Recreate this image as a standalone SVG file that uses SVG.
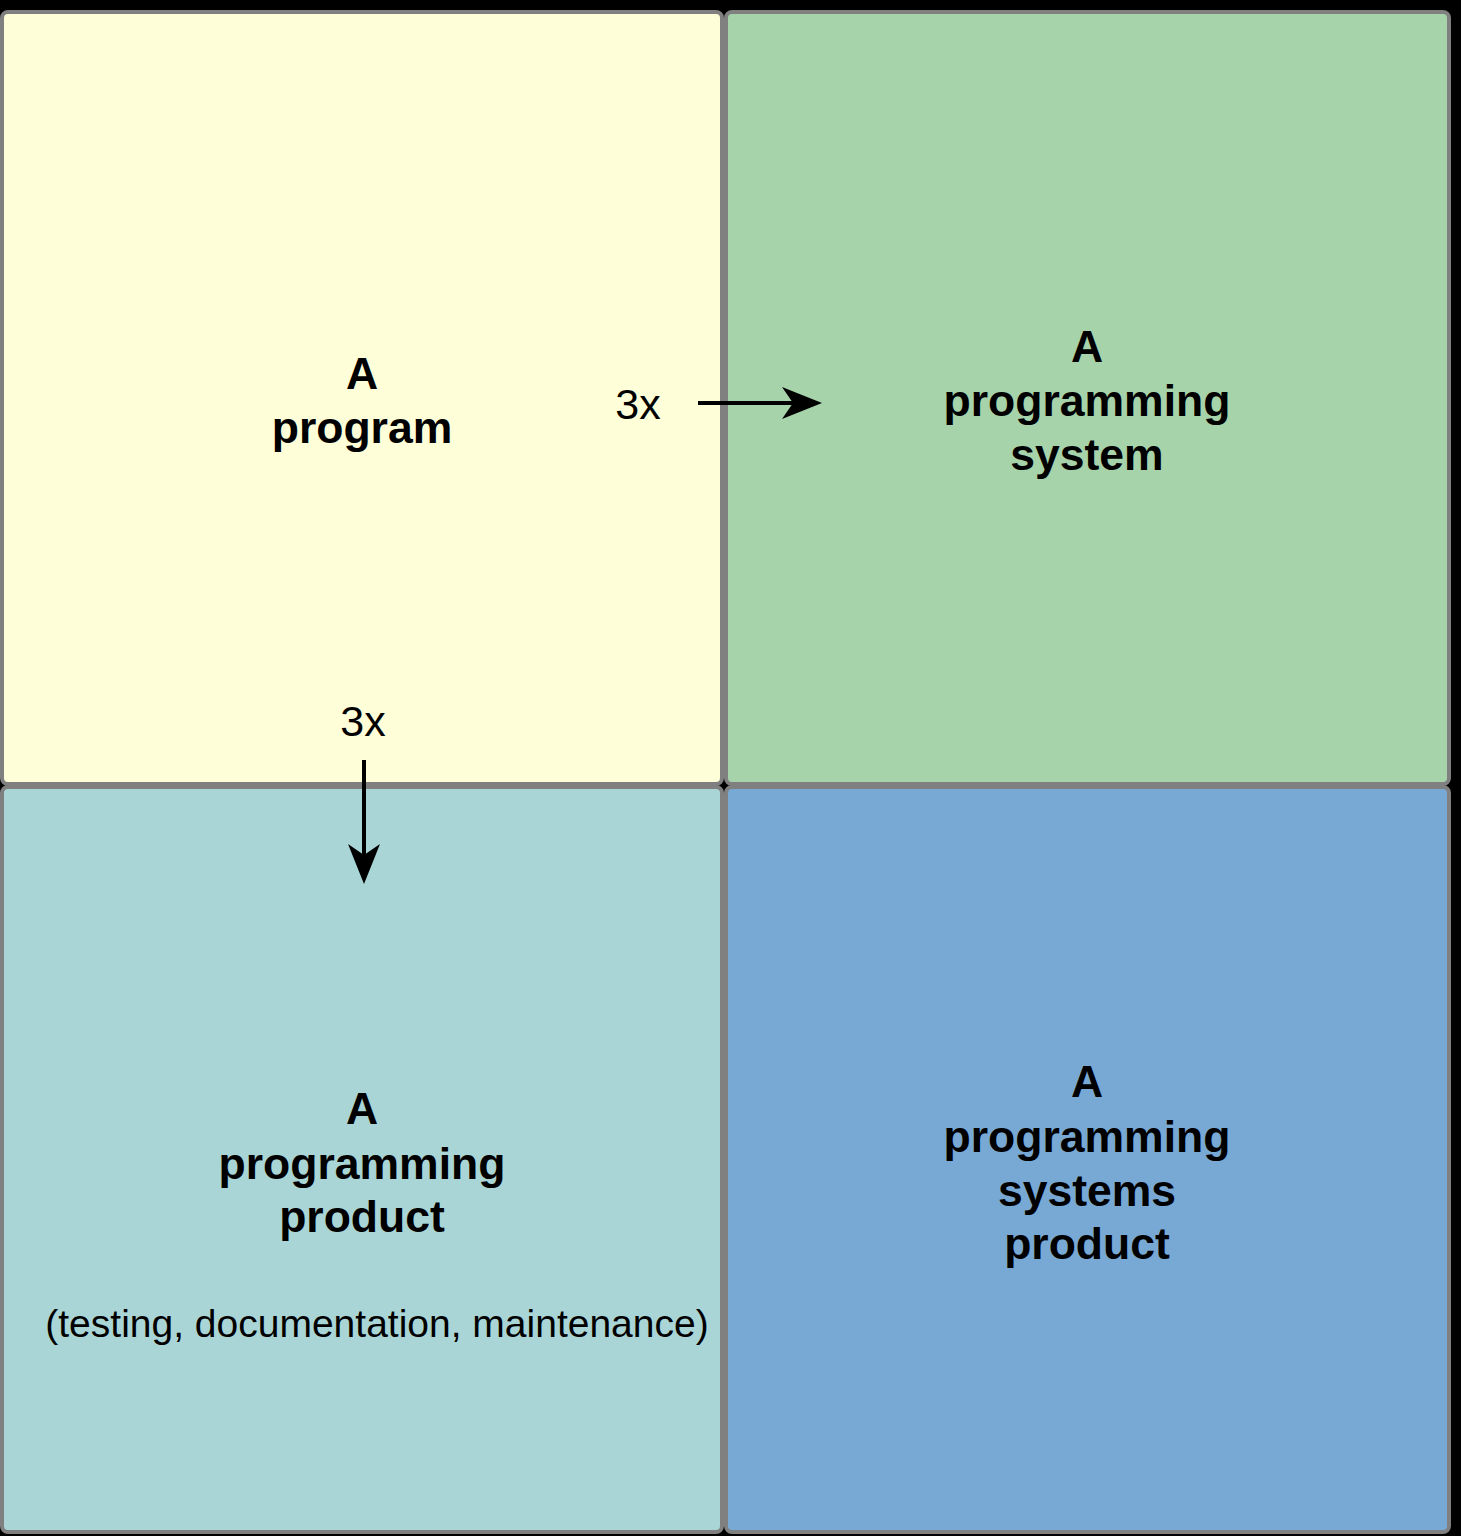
<svg xmlns="http://www.w3.org/2000/svg" width="1461" height="1536" viewBox="0 0 1461 1536">
<defs>
<style>
.box{stroke:#808080;stroke-width:4}
.t{font-family:"Liberation Sans",Arial,sans-serif;font-weight:bold;font-size:44.5px;fill:#000;text-anchor:middle}
.r{font-family:"Liberation Sans",Arial,sans-serif;font-size:39px;fill:#000;text-anchor:middle}
.x{font-family:"Liberation Sans",Arial,sans-serif;font-size:43px;fill:#000;text-anchor:middle}
.c{stroke:#000;stroke-width:4;fill:none}
</style>
<marker id="ah" markerUnits="userSpaceOnUse" viewBox="0 0 42 34" refX="30" refY="17" markerWidth="42" markerHeight="34" orient="auto">
<path d="M0,1 L40,17 L0,33 L11,17 Z" fill="#000"/>
</marker>
</defs>
<rect x="0" y="0" width="1461" height="1536" fill="#000"/>
<g id="program">
<rect class="box" x="2" y="12" width="720" height="772" rx="6" fill="#FEFED8"/>
<text class="t" x="362" y="389">A</text>
<text class="t" x="362" y="443">program</text>
</g>
<g id="system">
<rect class="box" x="726" y="12" width="723" height="772" rx="6" fill="#A7D3AA"/>
<text class="t" x="1087" y="362">A</text>
<text class="t" x="1087" y="416">programming</text>
<text class="t" x="1087" y="470">system</text>
</g>
<g id="product">
<rect class="box" x="2" y="787" width="720" height="745" rx="6" fill="#A9D5D6"/>
<text class="t" x="362" y="1124">A</text>
<text class="t" x="362" y="1179">programming</text>
<text class="t" x="362" y="1232">product</text>
<text class="r" x="377" y="1337">(testing, documentation, maintenance)</text>
</g>
<g id="systems-product">
<rect class="box" x="726" y="787" width="723" height="745" rx="6" fill="#78A9D5"/>
<text class="t" x="1087" y="1097">A</text>
<text class="t" x="1087" y="1152">programming</text>
<text class="t" x="1087" y="1206">systems</text>
<text class="t" x="1087" y="1259">product</text>
</g>
<g id="connectors">
<line class="c" x1="698" y1="403" x2="812" y2="403" marker-end="url(#ah)"/>
<text class="x" x="638" y="419">3x</text>
<line class="c" x1="364" y1="760" x2="364" y2="874" marker-end="url(#ah)"/>
<text class="x" x="363" y="736">3x</text>
</g>
</svg>
